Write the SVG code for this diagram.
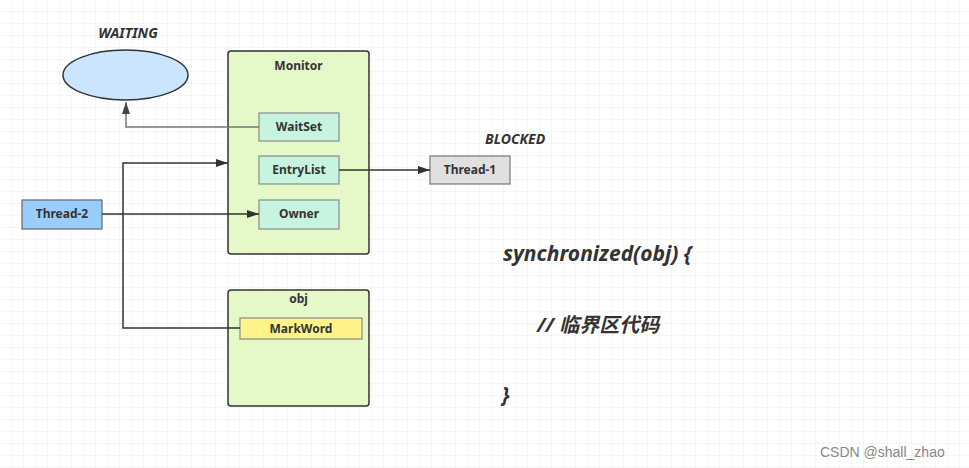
<svg xmlns="http://www.w3.org/2000/svg" width="969" height="468" viewBox="0 0 969 468">
<defs>
<pattern id="grid" width="12" height="12" patternUnits="userSpaceOnUse">
<path d="M12 0V12M0 12H12" fill="none" stroke="#ebebeb" stroke-width="1"/>
</pattern>
<marker id="arr" viewBox="0 0 12 10" refX="12" refY="5" markerWidth="12" markerHeight="10" markerUnits="userSpaceOnUse" orient="auto">
<path d="M0,1 L12,5 L0,9 Z" fill="#333"/>
</marker>
<marker id="arrg" viewBox="0 0 12 10" refX="12" refY="5" markerWidth="12" markerHeight="10" markerUnits="userSpaceOnUse" orient="auto">
<path d="M0,1 L12,5 L0,9 Z" fill="#444"/>
</marker>
</defs>
<style>
text{font-family:"Noto Sans","Open Sans","Liberation Sans",sans-serif;fill:#333;font-weight:bold;}
.lbl{font-size:12px;text-anchor:middle;}
.st{font-size:14px;font-style:italic;}
.code{font-size:21px;font-style:italic;font-family:"Noto Sans","Noto Sans CJK SC",sans-serif;}
.box{stroke:#333;stroke-width:1.5;fill:#e5f8c8;}
.inner{stroke:#8a8a8a;stroke-width:1.2;fill:#c6f4df;}
.conn{fill:none;stroke:#333;stroke-width:1.5;}
</style>
<rect width="969" height="468" fill="#fff"/>
<rect width="969" height="468" fill="url(#grid)"/>

<g id="waiting">
<text class="st" x="128" y="38" text-anchor="middle">WAITING</text>
<ellipse cx="125.5" cy="75" rx="62.5" ry="25" fill="#cce5ff" stroke="#333" stroke-width="1.5"/>
</g>

<g id="monitor">
<rect class="box" x="228" y="51" width="141" height="203" rx="3"/>
<text class="lbl" x="298.5" y="70">Monitor</text>
</g>
<g id="waitset">
<rect class="inner" x="259" y="113" width="80" height="28"/>
<text class="lbl" x="299" y="131">WaitSet</text>
</g>
<g id="entrylist">
<rect class="inner" x="259" y="156" width="80" height="28"/>
<text class="lbl" x="299" y="174">EntryList</text>
</g>
<g id="owner">
<rect class="inner" x="259" y="200" width="80" height="29"/>
<text class="lbl" x="299" y="218">Owner</text>
</g>

<g id="thread2">
<rect x="22" y="200" width="80" height="29" fill="#99ccff" stroke="#666" stroke-width="1.2"/>
<text class="lbl" x="62" y="218">Thread-2</text>
</g>

<g id="thread1">
<text class="st" x="485" y="144">BLOCKED</text>
<rect x="430" y="156" width="80" height="28" fill="#e0e0e0" stroke="#777" stroke-width="1.2"/>
<text class="lbl" x="470" y="174">Thread-1</text>
</g>

<g id="obj">
<rect class="box" x="228" y="290" width="141" height="116" rx="3"/>
<text class="lbl" x="298.5" y="303">obj</text>
</g>
<g id="markword">
<rect x="240" y="318" width="122" height="21" fill="#fff38a" stroke="#888" stroke-width="1.2"/>
<text class="lbl" x="301" y="333">MarkWord</text>
</g>

<g id="connectors">
<path class="conn" d="M259,127H126V102" style="stroke:#777" marker-end="url(#arrg)"/>
<path class="conn" d="M102,214H259" marker-end="url(#arr)"/>
<path class="conn" d="M240,328H123V163H228" marker-end="url(#arr)"/>
<path class="conn" d="M339,170H430" marker-end="url(#arr)"/>
</g>

<g id="code">
<text class="code" x="503" y="261">synchronized(obj) {</text>
<text class="code" x="537" y="332" style="font-size:20px">// 临界区代码</text>
<text class="code" x="502" y="402">}</text>
</g>

<text x="820" y="457" style="font-family:'Liberation Sans',sans-serif;font-weight:normal;font-size:14px;fill:#888">CSDN @shall_zhao</text>
</svg>
